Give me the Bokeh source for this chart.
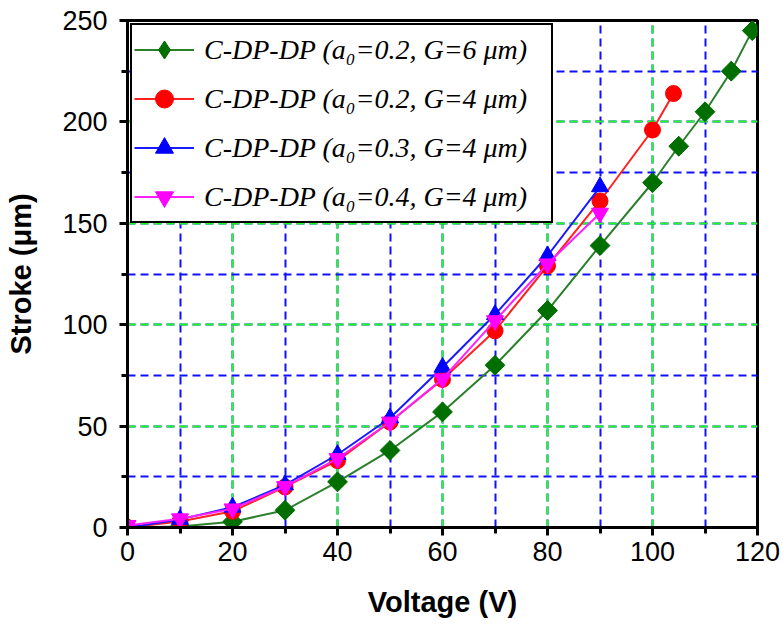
import numpy as np
from bokeh.plotting import figure
from bokeh.models import SingleIntervalTicker, Legend, LegendItem, Range1d
from bokeh.embed import file_html
from bokeh.resources import INLINE

# Data
v_g6 = [0, 10, 20, 30, 40, 50, 60, 70, 80, 90, 100, 105, 110, 115, 119]
s_g6 = [0, 0.5, 2.8, 8.5, 22.5, 38, 57, 80, 107, 139, 170, 188, 205, 225, 245]

v_a2 = [0, 10, 20, 30, 40, 50, 60, 70, 80, 90, 100, 104]
s_a2 = [0, 3, 8, 20, 33, 52, 73, 97, 129, 161, 196, 214]

v_a3 = [0, 10, 20, 30, 40, 50, 60, 70, 80, 90]
s_a3 = [0, 4, 10, 21, 36, 54, 79, 105, 134, 168]

v_a4 = [0, 10, 20, 30, 40, 50, 60, 70, 80, 90]
s_a4 = [1, 4.3, 9.2, 20.2, 34, 52, 73.3, 102, 130, 155]

labels = [
    "C-DP-DP (a\u2080=0.2, G=6 \u03bcm)",
    "C-DP-DP (a\u2080=0.2, G=4 \u03bcm)",
    "C-DP-DP (a\u2080=0.3, G=4 \u03bcm)",
    "C-DP-DP (a\u2080=0.4, G=4 \u03bcm)",
]

p = figure(width=783, height=627, x_range=Range1d(0, 120), y_range=Range1d(0, 250),
           output_backend="svg", toolbar_location=None,
           min_border_left=127, min_border_right=26, min_border_top=20, min_border_bottom=100)

p.outline_line_color = "black"
p.outline_line_width = 3
p.outline_line_alpha = 1
p.background_fill_color = "white"
p.border_fill_color = "white"

p.xaxis.ticker = SingleIntervalTicker(interval=20, num_minor_ticks=2)
p.yaxis.ticker = SingleIntervalTicker(interval=50, num_minor_ticks=2)

for ax in (p.xaxis, p.yaxis):
    ax.axis_line_width = 3
    ax.axis_line_color = "black"
    ax.major_tick_line_width = 3
    ax.minor_tick_line_width = 3
    ax.major_tick_out = 8
    ax.major_tick_in = 0
    ax.minor_tick_out = 6
    ax.minor_tick_in = 0
    ax.major_label_text_font = "Liberation Sans"
    ax.major_label_text_font_size = "27px"
    ax.major_label_text_color = "black"
    ax.axis_label_text_font = "Liberation Sans"
    ax.axis_label_text_font_style = "bold"
    ax.axis_label_text_font_size = "29px"
    ax.axis_label_text_color = "black"

p.xaxis.axis_label = "Voltage (V)"
p.yaxis.axis_label = "Stroke (\u03bcm)"
p.xaxis.major_label_standoff = 6
p.yaxis.major_label_standoff = 12
p.xaxis.axis_label_standoff = 22
p.yaxis.axis_label_standoff = 22

for g in (p.xgrid, p.ygrid):
    g.grid_line_color = "#22ff22"
    g.grid_line_alpha = 1
    g.grid_line_width = 2
    g.grid_line_dash = "8 5"
    g.minor_grid_line_color = "#1010ff"
    g.minor_grid_line_alpha = 1
    g.minor_grid_line_width = 2
    g.minor_grid_line_dash = "8 5"

items = []

l1 = p.line(v_g6, s_g6, line_color="#2a7f2a", line_width=2)
# narrow diamond (used by the legend) hidden under the rotated square marker
d1 = p.scatter(v_g6, s_g6, marker="diamond", size=19, fill_color="#006f00", line_color="#006f00")
m1 = p.scatter(v_g6, s_g6, marker="square", angle=np.pi / 4, size=14,
               fill_color="#006f00", line_color="#006f00")
items.append(LegendItem(label=labels[0], renderers=[l1, d1]))

l2 = p.line(v_a2, s_a2, line_color="#ff2020", line_width=2)
m2 = p.scatter(v_a2, s_a2, marker="circle", size=16, fill_color="#ff0000", line_color="#ff0000")
items.append(LegendItem(label=labels[1], renderers=[l2, m2]))

l3 = p.line(v_a3, s_a3, line_color="#1a1aff", line_width=2)
m3 = p.scatter(v_a3, s_a3, marker="triangle", size=17, fill_color="#0000ff", line_color="#0000ff")
items.append(LegendItem(label=labels[2], renderers=[l3, m3]))

l4 = p.line(v_a4, s_a4, line_color="#ff20ff", line_width=2)
m4 = p.scatter(v_a4, s_a4, marker="inverted_triangle", size=17, fill_color="#ff00ff", line_color="#ff00ff")
items.append(LegendItem(label=labels[3], renderers=[l4, m4]))

legend = Legend(items=items, location="top_left", margin=3,
                border_line_color="black", border_line_width=2, border_line_alpha=1,
                label_text_font="Liberation Serif", label_text_font_style="italic",
                label_text_font_size="28px", label_text_color="black",
                glyph_width=60, glyph_height=45, label_height=45, label_width=345,
                spacing=4, padding=2, label_standoff=10,
                background_fill_color="white", background_fill_alpha=1)
p.add_layout(legend)

open("out.html", "w").write(file_html(p, INLINE))
